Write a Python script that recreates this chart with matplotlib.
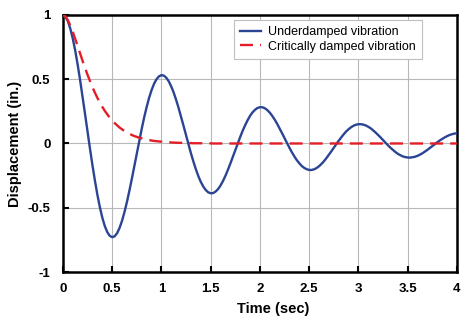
import numpy as np
import matplotlib
matplotlib.use("Agg")
import matplotlib.pyplot as plt

plt.rcParams["font.family"] = ["Liberation Sans", "DejaVu Sans"]

# time axis (sec), read every 0.025 s
time_s = np.round(np.arange(0, 4.0001, 0.025), 3)

# underdamped displacement (in.)
underdamped = [
    1.000, 0.988, 0.952, 0.894, 0.817, 0.722, 0.612, 0.491, 0.362, 0.228,
    0.093, -0.041, -0.169, -0.289, -0.399, -0.495, -0.577, -0.642, -0.689, -0.718,
    -0.729, -0.722, -0.698, -0.657, -0.602, -0.534, -0.455, -0.367, -0.274, -0.176,
    -0.077, 0.020, 0.114, 0.203, 0.283, 0.355, 0.415, 0.464, 0.500, 0.522,
    0.532, 0.528, 0.511, 0.483, 0.443, 0.395, 0.338, 0.275, 0.207, 0.136,
    0.064, -0.008, -0.077, -0.141, -0.201, -0.254, -0.299, -0.335, -0.362, -0.380,
    -0.387, -0.386, -0.374, -0.355, -0.327, -0.292, -0.251, -0.205, -0.156, -0.104,
    -0.052, 0.000, 0.051, 0.099, 0.142, 0.181, 0.215, 0.242, 0.262, 0.276,
    0.282, 0.282, 0.274, 0.260, 0.240, 0.215, 0.186, 0.153, 0.117, 0.080,
    0.042, 0.004, -0.034, -0.069, -0.101, -0.130, -0.154, -0.175, -0.190, -0.200,
    -0.206, -0.206, -0.201, -0.191, -0.177, -0.159, -0.138, -0.114, -0.088, -0.061,
    -0.033, -0.005, 0.022, 0.047, 0.071, 0.093, 0.111, 0.126, 0.138, 0.146,
    0.150, 0.150, 0.147, 0.140, 0.130, 0.118, 0.102, 0.085, 0.066, 0.047,
    0.026, 0.006, -0.014, -0.033, -0.050, -0.066, -0.080, -0.091, -0.100, -0.106,
    -0.109, -0.110, -0.107, -0.103, -0.096, -0.087, -0.076, -0.063, -0.050, -0.035,
    -0.021, -0.006, 0.009, 0.023, 0.035, 0.047, 0.057, 0.066, 0.072, 0.077,
    0.079,
]

# critically damped displacement (in.)
critical = [
    1.000, 0.989, 0.960, 0.918, 0.869, 0.814, 0.757, 0.699, 0.642, 0.587,
    0.534, 0.485, 0.438, 0.395, 0.355, 0.318, 0.285, 0.254, 0.227, 0.202,
    0.179, 0.159, 0.141, 0.124, 0.110, 0.097, 0.086, 0.075, 0.066, 0.058,
    0.051, 0.045, 0.040, 0.035, 0.030, 0.027, 0.023, 0.020, 0.018, 0.016,
    0.014, 0.012, 0.010, 0.009, 0.008, 0.007, 0.006, 0.005, 0.005, 0.004,
    0.003, 0.003, 0.003, 0.002, 0.002, 0.002, 0.002, 0.001, 0.001, 0.001,
    0.001, 0.000, 0.000, 0.000, 0.000, 0.000, 0.000, 0.000, 0.000, 0.000,
    0.000, 0.000, 0.000, 0.000, 0.000, 0.000, 0.000, 0.000, 0.000, 0.000,
    0.000, 0.000, 0.000, 0.000, 0.000, 0.000, 0.000, 0.000, 0.000, 0.000,
    0.000, 0.000, 0.000, 0.000, 0.000, 0.000, 0.000, 0.000, 0.000, 0.000,
    0.000, 0.000, 0.000, 0.000, 0.000, 0.000, 0.000, 0.000, 0.000, 0.000,
    0.000, 0.000, 0.000, 0.000, 0.000, 0.000, 0.000, 0.000, 0.000, 0.000,
    0.000, 0.000, 0.000, 0.000, 0.000, 0.000, 0.000, 0.000, 0.000, 0.000,
    0.000, 0.000, 0.000, 0.000, 0.000, 0.000, 0.000, 0.000, 0.000, 0.000,
    0.000, 0.000, 0.000, 0.000, 0.000, 0.000, 0.000, 0.000, 0.000, 0.000,
    0.000, 0.000, 0.000, 0.000, 0.000, 0.000, 0.000, 0.000, 0.000, 0.000,
    0.000,
]

x_ticks = [0, 0.5, 1, 1.5, 2, 2.5, 3, 3.5, 4]
x_tick_labels = ["0", "0.5", "1", "1.5", "2", "2.5", "3", "3.5", "4"]
y_ticks = [-1, -0.5, 0, 0.5, 1]
y_tick_labels = ["-1", "-0.5", "0", "0.5", "1"]

fig = plt.figure(figsize=(4.73, 3.25), dpi=100)
ax = fig.add_axes([0.133, 0.163, 0.833, 0.791])

ax.plot(time_s, underdamped, color="#2B4494", lw=1.7, label="Underdamped vibration", zorder=3)
ax.plot(time_s, critical, color="#E31E26", lw=1.7, dashes=(5.5, 3),
        label="Critically damped vibration", zorder=4)

ax.set_xlim(0, 4)
ax.set_ylim(-1, 1)
ax.set_xticks(x_ticks)
ax.set_xticklabels(x_tick_labels)
ax.set_yticks(y_ticks)
ax.set_yticklabels(y_tick_labels)
ax.grid(True, color="#B8B8B8", lw=0.8)
ax.set_axisbelow(True)

for sp in ax.spines.values():
    sp.set_linewidth(1.8)
    sp.set_color("black")

ax.tick_params(direction="in", length=4, width=1.5, top=False, right=False)
ax.tick_params(axis="x", pad=8)
ax.tick_params(axis="y", pad=9)
for lbl in ax.get_xticklabels() + ax.get_yticklabels():
    lbl.set_fontsize(9.5)
    lbl.set_fontweight("bold")

ax.set_xlabel("Time (sec)", fontsize=10.5, fontweight="bold")
ax.set_ylabel("Displacement (in.)", fontsize=10.5, fontweight="bold")
ax.xaxis.set_label_coords(0.533, -0.117)
ax.yaxis.set_label_coords(-0.104, 0.5)

leg = ax.legend(loc="upper left", bbox_to_anchor=(0.434, 0.981), borderaxespad=0,
                fontsize=9, handlelength=1.7, fancybox=False, framealpha=1,
                borderpad=0.5, labelspacing=0.2, handletextpad=0.5)
leg.get_frame().set_edgecolor("#BFBFBF")
leg.get_frame().set_linewidth(0.8)

fig.savefig("out.png", dpi=100)
plt.close(fig)
